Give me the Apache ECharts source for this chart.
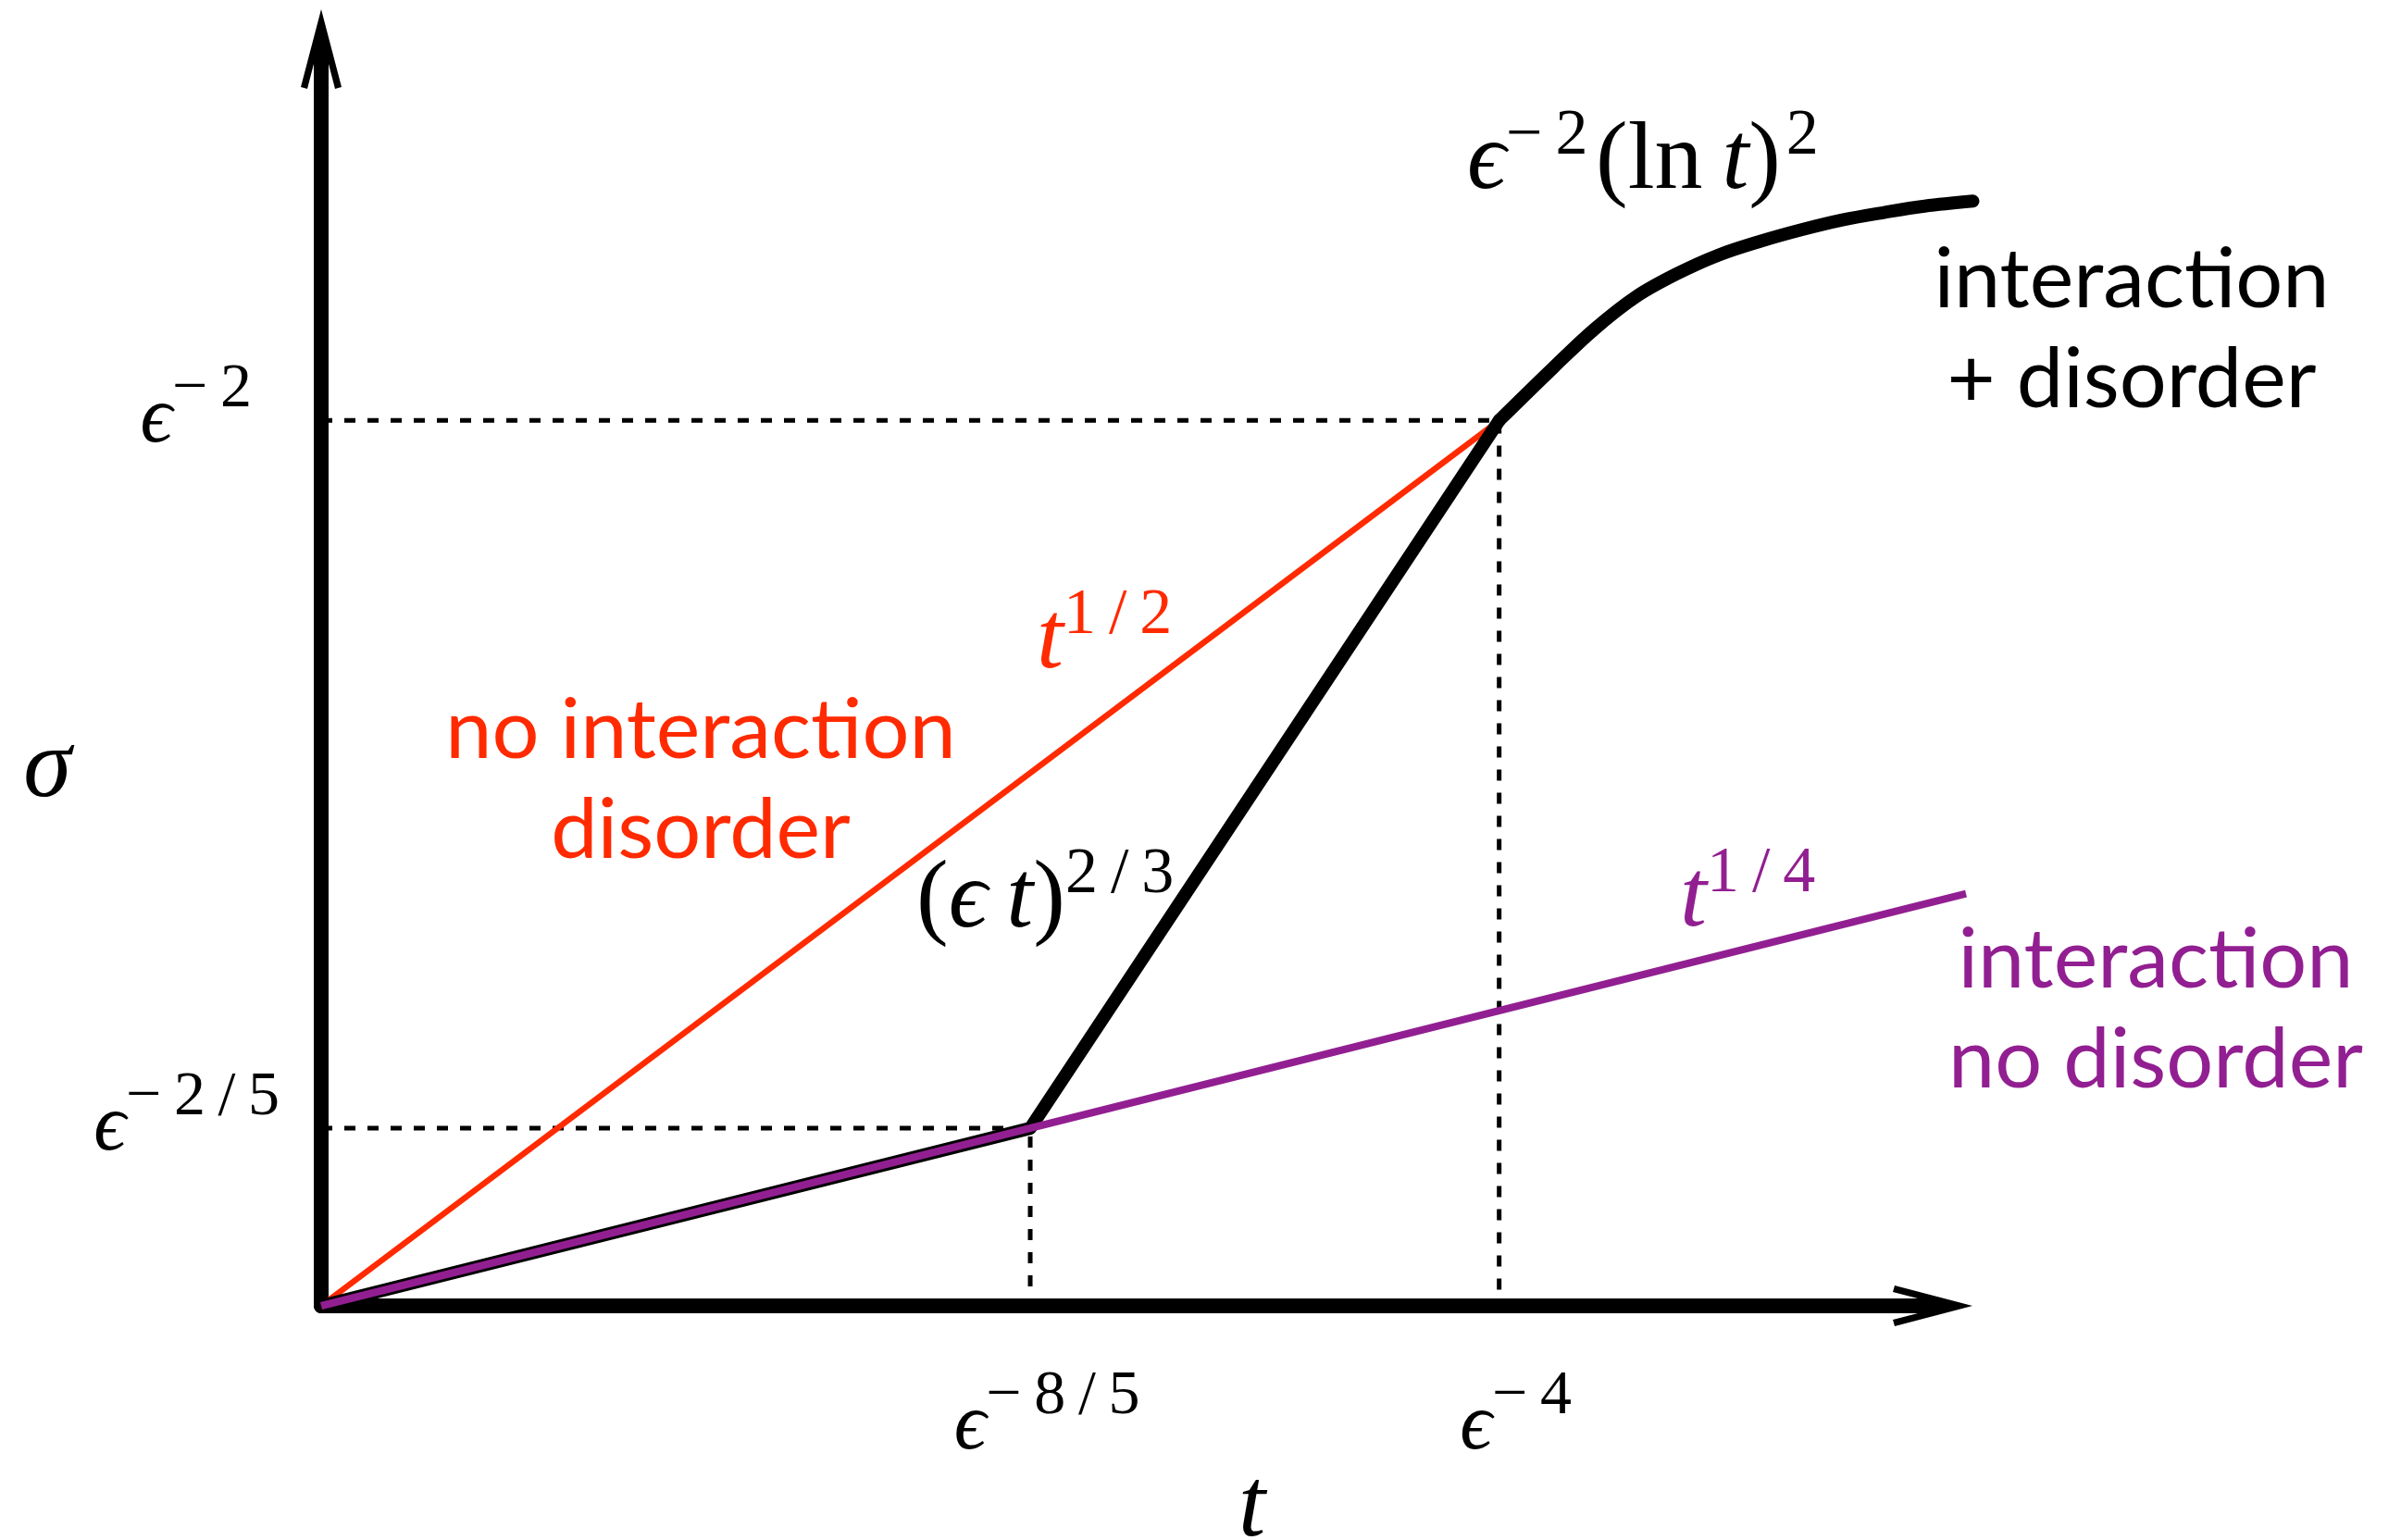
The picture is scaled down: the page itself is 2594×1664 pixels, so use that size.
<!DOCTYPE html>
<html><head><meta charset="utf-8">
<script src="https://cdn.jsdelivr.net/npm/echarts@6/dist/echarts.min.js"></script>
<style>html,body{margin:0;padding:0;background:#fff}#c{width:2594px;height:1664px}</style>
</head><body><div id="c"></div>
<script>
// ---------------- data (schematic units, origin = 0) ----------------
const guideT = [44.0, 73.1];            // positions of eps^{-8/5}, eps^{-4} on t
const guideSigma = [14.13, 70.45];      // positions of eps^{-2/5}, eps^{-2} on sigma
const xTickBase = ['ϵ', 'ϵ'];
const xTickExp = ['−8/5', '−4'];
const yTickBase = ['ϵ', 'ϵ'];
const yTickExp = ['−2/5', '−2'];
const redT = [0, 73.1];                 // t^{1/2}: no interaction, disorder
const redSigma = [0, 70.45];
const purpleT = [0, 102.07];            // t^{1/4}: interaction, no disorder
const purpleSigma = [0, 32.79];
const blackT = [0, 44.0, 73.1];         // interaction + disorder, straight part
const blackSigma = [0, 14.13, 70.45];
const curveT = [73.1, 76.5, 79.0, 81.6, 84.1, 86.7, 89.3, 91.8, 94.4, 97.0, 99.5, 102.5];
const curveSigma = [70.45, 74.7, 77.7, 80.3, 82.1, 83.6, 84.7, 85.6, 86.4, 87.0, 87.5, 87.9];

// ---------------- styling ----------------
const RED = '#ff2a00', PURPLE = '#921f91', BLACK = '#000';
const SERIF = "'Liberation Serif','DejaVu Serif',serif";
const SANS = "Lato, 'Open Sans', sans-serif";
const ARROW = 'path://M22 0L44 84L37 86L30 59L30 62L14 62L14 59L7 86L0 84Z';
const AXIS_W = 1741;        // px length of the drawn axes (origin to arrow centre)
const DATA_MAX_T = 106;     // data grid extends a little past the arrow, same scale

function supText(s) {       // widen minus and slash spacing like TeX
  return s.replace('−', '−\u2009').replace('/', '\u2009/\u2009');
}
function mathRich(color, main, sup, pb) {
  const base = {color: color, fill: color, fontFamily: SERIF, verticalAlign: 'bottom'};
  return {
    m: Object.assign({}, base, {fontSize: main, lineHeight: main, fontStyle: 'italic'}),
    r: Object.assign({}, base, {fontSize: main, lineHeight: main, fontStyle: 'normal'}),
    s: Object.assign({}, base, {fontSize: sup, lineHeight: sup, fontStyle: 'normal', padding: [0, 0, pb, 0]}),
    sp: Object.assign({}, base, {fontSize: main, lineHeight: main, width: 30})
  };
}
function pairs(xs, ys) { return xs.map((x, i) => [x, ys[i]]); }
function nearestIndex(arr, v) {
  let best = 0;
  arr.forEach((a, i) => { if (Math.abs(a - v) < Math.abs(arr[best] - v)) best = i; });
  return best;
}
function lineSeries(name, data, style, extra) {
  return Object.assign({type: 'line', name: name, xAxisIndex: 1, yAxisIndex: 1, symbol: 'none',
    clip: false, silent: true, data: data, lineStyle: style}, extra || {});
}

const chart = echarts.init(document.getElementById('c'), null, {renderer: 'canvas'});
const option = {
  animation: false,
  backgroundColor: '#fff',
  grid: [
    {left: 347, width: AXIS_W, top: 53, bottom: 253, containLabel: false, outerBoundsMode: 'none'},
    {left: 347, width: AXIS_W * DATA_MAX_T / 100, top: 53, bottom: 253, containLabel: false, outerBoundsMode: 'none'}
  ],
  xAxis: [{
    gridIndex: 0, type: 'value', min: 0, max: 100,
    axisLine: {show: true, onZero: true, symbol: ['none', ARROW], symbolSize: [44, 86],
      lineStyle: {color: BLACK, width: 16}},
    axisTick: {show: false}, splitLine: {show: false},
    axisLabel: {
      customValues: guideT, margin: 88, padding: [0, 0, 0, 36],
      formatter: (v) => { const i = nearestIndex(guideT, v); return '{m|' + xTickBase[i] + '}{s|' + supText(xTickExp[i]) + '}'; },
      rich: mathRich(BLACK, 86, 68, 42)
    },
    name: 't', nameLocation: 'middle', nameGap: 168, nameMoveOverlap: false,
    nameTextStyle: {fontFamily: SERIF, fontStyle: 'italic', fontSize: 105, color: BLACK,
      verticalAlign: 'top', padding: [0, 0, 0, 270]}
  }, {
    gridIndex: 1, type: 'value', min: 0, max: DATA_MAX_T, show: false
  }],
  yAxis: [{
    gridIndex: 0, type: 'value', min: 0, max: 100,
    axisLine: {show: true, onZero: true, symbol: ['none', ARROW], symbolSize: [44, 86],
      lineStyle: {color: BLACK, width: 16}},
    axisTick: {show: false}, splitLine: {show: false},
    axisLabel: {
      customValues: guideSigma, margin: 45,
      formatter: (v) => { const i = nearestIndex(guideSigma, v); return '{m|' + yTickBase[i] + '}{s|' + supText(yTickExp[i]) + '}' + (i === 1 ? '{sp|}' : ''); },
      rich: mathRich(BLACK, 86, 68, 42)
    },
    name: 'σ', nameLocation: 'middle', nameGap: 270, nameRotate: 0,
    nameTextStyle: {fontFamily: SERIF, fontStyle: 'italic', fontSize: 105, color: BLACK,
      verticalAlign: 'top', padding: [48, 0, 0, 0]}
  }, {
    gridIndex: 1, type: 'value', min: 0, max: 100, show: false
  }],
  series: [
    lineSeries('guide ε^{-2/5}', [[0, guideSigma[0]], [guideT[0], guideSigma[0]], [guideT[0], 0]],
      {color: BLACK, width: 5, type: [12, 13]}, {z: 1}),
    lineSeries('guide ε^{-2}', [[0, guideSigma[1]], [guideT[1], guideSigma[1]], [guideT[1], 0]],
      {color: BLACK, width: 5, type: [12, 13]}, {z: 1}),
    lineSeries('no interaction, disorder', pairs(redT, redSigma), {color: RED, width: 6.5}, {z: 2}),
    lineSeries('interaction + disorder', pairs(blackT, blackSigma),
      {color: BLACK, width: 14, join: 'round', cap: 'round'}, {z: 3}),
    lineSeries('interaction + disorder (log)', pairs(curveT, curveSigma),
      {color: BLACK, width: 14, join: 'round', cap: 'round'}, {z: 3, smooth: 0.35}),
    lineSeries('interaction, no disorder', pairs(purpleT, purpleSigma), {color: PURPLE, width: 8}, {z: 4})
  ],
  graphic: [
    {type: 'text', x: 1585, y: 228, z: 10, style: {text: '{m|ϵ}{s|' + supText('−2') + '}{r|\u200A(ln\u2009}{m|t}{r|)}{s|\u200A2}',
      align: 'left', verticalAlign: 'bottom', rich: mathRich(BLACK, 104, 70, 45)}},
    {type: 'text', x: 1120, y: 746, z: 10, style: {text: '{m|t}{s|' + supText('1/2') + '}',
      align: 'left', verticalAlign: 'bottom', rich: mathRich(RED, 104, 70, 45)}},
    {type: 'text', x: 990, y: 1026, z: 10, style: {text: '{r|(}{m|ϵ\u2009t}{r|)}{s|' + supText('2/3') + '}',
      align: 'left', verticalAlign: 'bottom', rich: mathRich(BLACK, 104, 70, 45)}},
    {type: 'text', x: 1815, y: 1025, z: 10, style: {text: '{m|t}{s|' + supText('1/4') + '}',
      align: 'left', verticalAlign: 'bottom', rich: mathRich(PURPLE, 104, 70, 45)}},
    {type: 'text', x: 2303, y: 249, z: 10, style: {text: 'interac\u200Ction\n+ disorder', fill: BLACK,
      fontFamily: SANS, fontSize: 90, lineHeight: 108, align: 'center', verticalAlign: 'top'}},
    {type: 'text', x: 757, y: 736, z: 10, style: {text: 'no interac\u200Ction\ndisorder', fill: RED,
      fontFamily: SANS, fontSize: 90, lineHeight: 108, align: 'center', verticalAlign: 'top'}},
    {type: 'text', x: 2329, y: 984, z: 10, style: {text: 'interac\u200Ction\nno disorder', fill: PURPLE,
      fontFamily: SANS, fontSize: 90, lineHeight: 108, align: 'center', verticalAlign: 'top'}}
  ]
};
chart.setOption(option);
</script>
</body></html>
